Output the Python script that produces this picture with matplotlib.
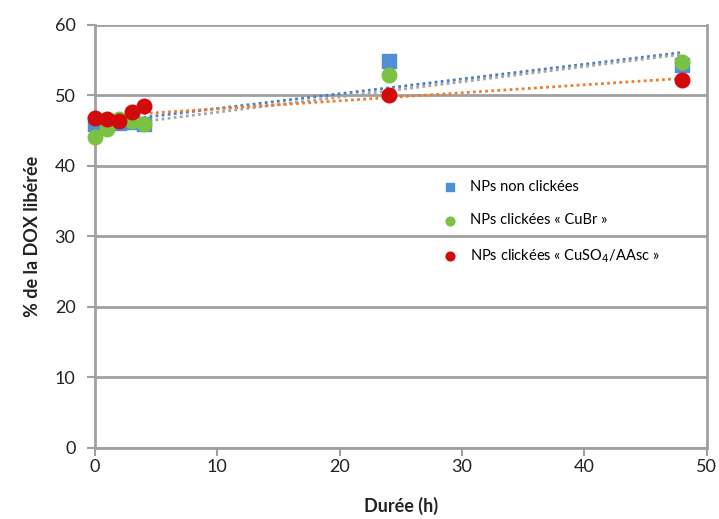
import numpy as np
import matplotlib.pyplot as plt

# durées (h)
t = [0, 1, 2, 3, 4, 24, 48]
non_clickees = [46.0, 46.0, 46.1, 46.2, 46.0, 54.9, 54.3]
cubr = [44.1, 45.3, 46.6, 46.3, 46.0, 52.9, 54.7]
cuso4 = [46.8, 46.7, 46.3, 47.6, 48.5, 50.0, 52.2]

labels = ["NPs non clickées", "NPs clickées « CuBr »", "NPs clickées « CuSO$_4$/AAsc »"]

plt.rcParams["font.family"] = ["Lato", "DejaVu Sans"]

fig = plt.figure(figsize=(7.19, 5.19), dpi=100)
ax = fig.add_axes([0.132, 0.137, 0.851, 0.815])

grey = "#a0a0a0"
x = np.array(t)
xx = np.array([0, 48])

# trendlines (linear fits)
for y, c in [(non_clickees, "#4a7cc7"), (cubr, "#a5a5a5"), (cuso4, "#ed7d31")]:
    p = np.polyfit(x, y, 1)
    ax.plot(xx, np.polyval(p, xx), ls=(0, (1, 1.2)), color=c, lw=2, zorder=2)

ax.scatter(t, non_clickees, marker="s", s=110, color="#4f8fd6", label=labels[0], zorder=3, clip_on=False)
ax.scatter(t, cubr, marker="o", s=110, color="#7cc242", label=labels[1], zorder=4, clip_on=False)
ax.scatter(t, cuso4, marker="o", s=110, color="#d20a0a", label=labels[2], zorder=5, clip_on=False)

ax.set_xlim(0, 50)
ax.set_ylim(0, 60)
ax.set_xticks(range(0, 51, 10))
ax.set_yticks(range(0, 61, 10))
ax.yaxis.grid(True, color=grey, lw=2)
ax.set_axisbelow(True)
for s in ["left", "bottom", "right"]:
    ax.spines[s].set_color(grey)
    ax.spines[s].set_linewidth(2)
ax.spines["top"].set_visible(False)
ax.tick_params(axis="both", direction="out", length=6, width=1.5, color=grey,
               labelsize=13, labelcolor="#222222")
ax.tick_params(axis="x", pad=2)
ax.tick_params(axis="y", pad=8)

ax.set_xlabel("Durée (h)", fontsize=13, fontweight="bold", color="#222222", labelpad=16)
ax.set_ylabel("% de la DOX libérée", fontsize=13, fontweight="bold", color="#222222", labelpad=10)

ax.legend(loc="upper left", bbox_to_anchor=(0.535, 0.665), frameon=False, fontsize=10.5,
          markerscale=0.6, labelspacing=1.35, handletextpad=0.4, scatterpoints=1)

plt.savefig("out.png", dpi=100)
